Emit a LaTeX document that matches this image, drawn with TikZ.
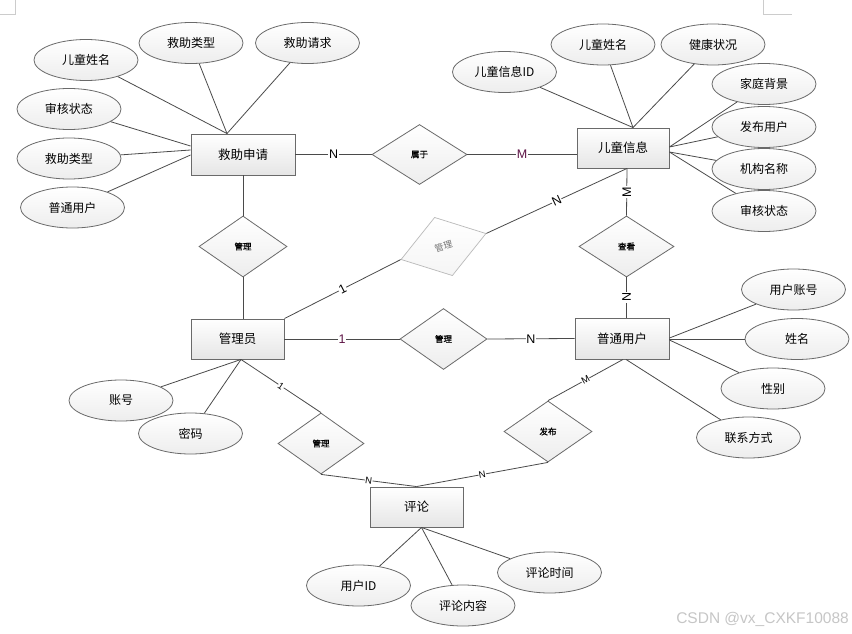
\documentclass[tikz,border=0pt]{standalone}
\usepackage{fontspec}
\setmainfont{Noto Sans CJK SC}
\newfontfamily\latinfont{Liberation Sans}
\newfontfamily\relfont{Noto Sans CJK SC}[FakeBold=1.2]
\usetikzlibrary{shapes.geometric,calc,shadows}
\definecolor{edgec}{HTML}{4A4A4A}
\definecolor{borderc}{HTML}{6A6A6A}
\definecolor{purp}{HTML}{5E1446}
\begin{document}
\begin{tikzpicture}[x=1pt,y=-1pt,
  ent/.style={rectangle, draw=borderc, line width=0.9pt, top color=white, bottom color=gray!20,
    minimum width=93pt, minimum height=40pt, inner sep=0pt, font=\fontsize{12.5}{14}\selectfont,
    drop shadow={opacity=0.25, shadow xshift=1.2pt, shadow yshift=-1.2pt}},
  attr/.style={ellipse, draw=borderc, line width=0.8pt, top color=white, bottom color=gray!14,
    minimum width=104pt, minimum height=41pt, inner sep=0pt, font=\fontsize{12}{14}\selectfont},
  rel/.style={diamond, draw=borderc, line width=0.8pt, top color=white, bottom color=gray!14,
    minimum width=88pt, minimum height=61pt, inner sep=0pt, font=\relfont\fontsize{8.5}{10}\selectfont},
  relfaint/.style={diamond, draw=gray!55, line width=0.7pt, top color=white, bottom color=gray!8,
    minimum width=89pt, minimum height=61pt, inner sep=0pt},
  conn/.style={draw=edgec, line width=0.8pt},
  lab/.style={fill=white, inner sep=0.6pt, font=\latinfont\fontsize{12.5}{13}\selectfont},
  labs/.style={fill=white, inner sep=0.4pt, font=\latinfont\fontsize{9.5}{10}\selectfont}
]
\useasboundingbox (0,0) rectangle (852,634);
\fill[white] (0,0) rectangle (852,634);
% page corner marks
\draw[gray!40, line width=0.6pt] (15.5,0) -- (15.5,14.5) -- (0,14.5);
\draw[gray!40, line width=0.6pt] (763.5,0) -- (763.5,14.5) -- (792,14.5);

% entities
\node[ent, minimum width=104pt, minimum height=41pt] (jz) at (243,154.5) {救助申请};
\node[ent, minimum width=92pt] (et) at (623,148) {儿童信息};
\node[ent] (gl) at (237.5,339) {管理员};
\node[ent, minimum width=94pt, minimum height=41pt] (pu) at (622,338.5) {普通用户};
\node[ent] (pl) at (416.5,507) {评论};

% relationships
\node[rel, minimum width=95pt, minimum height=60pt] (sy) at (419.5,154.5) {属于};
\node[rel] (gla) at (243,246.5) {管理};
\node[rel, minimum width=95pt] (ck) at (626.5,246.5) {查看};
\node[rel, minimum width=87pt] (glb) at (443.5,339) {管理};
\node[rel, minimum width=86pt] (glc) at (321,443.5) {管理};
\node[rel] (fb) at (548,431.5) {发布};
\node[relfaint, rotate=17] (gld) at (443.5,246.5) {};
\node[rotate=17, text=black!55, inner sep=0pt, font=\fontsize{9}{10}\selectfont] (gldt) at (gld.center) {管理};

% attributes of 救助申请
\node[attr] (a1) at (86,60) {儿童姓名};
\node[attr] (a2) at (191,43) {救助类型};
\node[attr] (a3) at (307.5,43) {救助请求};
\node[attr] (a4) at (69,109) {审核状态};
\node[attr] (a5) at (69,158.5) {救助类型};
\node[attr] (a6) at (72.5,207.5) {普通用户};
% attributes of 儿童信息
\node[attr] (b1) at (504.5,72) {儿童信息ID};
\node[attr] (b2) at (603,44.5) {儿童姓名};
\node[attr] (b3) at (713,44.5) {健康状况};
\node[attr] (b4) at (764,84) {家庭背景};
\node[attr] (b5) at (764,127) {发布用户};
\node[attr] (b6) at (764,169) {机构名称};
\node[attr] (b7) at (764,211) {审核状态};
% attributes of 普通用户
\node[attr] (c1) at (793.5,289.5) {用户账号};
\node[attr] (c2) at (797,339) {姓名};
\node[attr] (c3) at (773,388.5) {性别};
\node[attr] (c4) at (748.5,437.5) {联系方式};
% attributes of 管理员
\node[attr] (d1) at (121,400.5) {账号};
\node[attr] (d2) at (190.5,433.5) {密码};
% attributes of 评论
\node[attr] (e1) at (358.5,585.5) {用户ID};
\node[attr] (e2) at (463,605.5) {评论内容};
\node[attr] (e3) at (549.5,572.5) {评论时间};

% watermark
\node[font=\latinfont\fontsize{15.5}{17}\selectfont, text=gray!45, anchor=east, inner sep=0pt] (wm) at (849,619) {CSDN @vx\_CXKF10088};

% attribute connectors
\coordinate (jzt) at ($(jz.north)+(-16,0)$);
\draw[conn] (a1) -- (jzt);
\draw[conn] (a2) -- (jzt);
\draw[conn] (a3) -- (jzt);
\draw[conn] (a4) -- ($(jz.west)+(0,-8.5)$);
\draw[conn] (a5) -- ($(jz.west)+(0,-4.5)$);
\draw[conn] (a6) -- ($(jz.west)+(0,0.5)$);

\coordinate (ett) at ($(et.north)+(10,0)$);
\draw[conn] (b1) -- (ett);
\draw[conn] (b2) -- (ett);
\draw[conn] (b3) -- (ett);
\draw[conn] (b4) -- ($(et.east)+(0,-1)$);
\draw[conn] (b5) -- ($(et.east)+(0,-1)$);
\draw[conn] (b6) -- ($(et.east)+(0,4)$);
\draw[conn] (b7) -- ($(et.east)+(0,4)$);

\draw[conn] (c1) -- ($(pu.east)+(0,-0.5)$);
\draw[conn] (c2) -- ($(pu.east)+(0,0.5)$);
\draw[conn] (c3) -- ($(pu.east)+(0,1.5)$);
\draw[conn] (c4) -- ($(pu.south)+(4,0)$);

\coordinate (glbot) at ($(gl.south)+(3.5,0)$);
\draw[conn] (d1) -- (glbot);
\draw[conn] (d2) -- (glbot);

\coordinate (plb) at ($(pl.south)+(5,0)$);
\draw[conn] (e1) -- (plb);
\draw[conn] (e2) -- (plb);
\draw[conn] (e3) -- (plb);

% relationship connectors
\draw[conn] (jz.east) -- node[lab]{N} (sy.west);
\draw[conn] (sy.east) -- node[lab, text=purp]{M} ($(et.west)+(0,6.5)$);
\draw[conn] (jz.south) -- (gla.north);
\draw[conn] (gla.south) -- ($(gl.north)+(5.5,0)$);
\draw[conn] (gl.north east) -- node[lab, sloped]{1} (gld.west);
\draw[conn] (gld.east) -- node[lab, sloped]{N} ($(et.south)+(4,0)$);
\draw[conn] ($(et.south)+(4,0)$) -- node[lab, rotate=90]{M} (ck.north);
\draw[conn] (ck.south) -- node[lab, rotate=90]{N} ($(pu.north)+(4.5,0)$);
\draw[conn] (gl.east) -- node[lab, text=purp]{1} (glb.west);
\draw[conn] (glb.east) -- node[lab]{N} (pu.west);
\draw[conn] (glbot) -- node[labs, sloped]{1} (glc.north);
\draw[conn] (glc.south) -- node[labs, sloped]{N} (pl.north);
\draw[conn] ($(pu.south)+(1,0)$) -- node[labs, sloped]{M} (fb.north);
\draw[conn] (fb.south) -- node[labs, sloped]{N} (pl.north);
\end{tikzpicture}
\end{document}
